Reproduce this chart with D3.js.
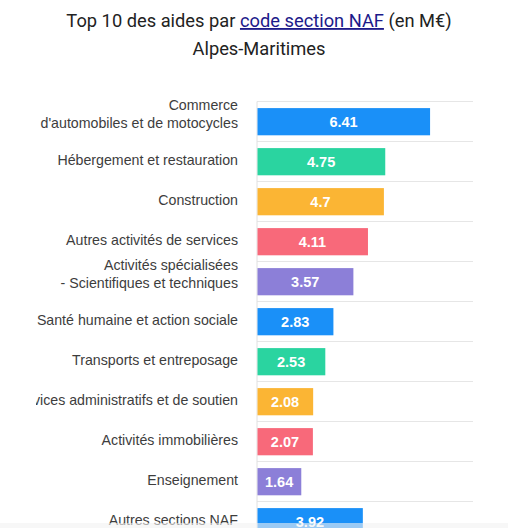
<!DOCTYPE html>
<html>
<head>
<meta charset="utf-8">
<script src="https://cdn.jsdelivr.net/npm/d3@7"></script>
<style>
  html, body { margin: 0; padding: 0; background: #fff; }
  svg { display: block; }
</style>
</head>
<body>
<svg id="chart" width="508" height="528"></svg>
<script>
const categories = [
  ["Commerce", "d'automobiles et de motocycles"],
  ["Hébergement et restauration"],
  ["Construction"],
  ["Autres activités de services"],
  ["Activités spécialisées", "- Scientifiques et techniques"],
  ["Santé humaine et action sociale"],
  ["Transports et entreposage"],
  ["Activités de services administratifs et de soutien"],
  ["Activités immobilières"],
  ["Enseignement"],
  ["Autres sections NAF"]
];
const values = [6.41, 4.75, 4.7, 4.11, 3.57, 2.83, 2.53, 2.08, 2.07, 1.64, 3.92];
const palette = ["#1a90f8", "#2ad4a0", "#fbb534", "#f8697a", "#8c7fd8"];
const xDomain = [0, 8];

const svg = d3.select("#chart");
const W = 508, H = 528;

// Title
const title = svg.append("text")
  .attr("x", 259).attr("y", 27)
  .attr("text-anchor", "middle")
  .style("font-family", "Roboto, 'Noto Sans', sans-serif")
  .style("font-size", "18.3px")
  .style("font-weight", "400")
  .attr("fill", "#222");
title.append("tspan").text("Top 10 des aides par ");
title.append("tspan").text("code section NAF")
  .attr("fill", "#1c1a8a")
  .style("text-decoration", "underline");
title.append("tspan").text(" (en M€)");

svg.append("text")
  .attr("x", 259).attr("y", 55)
  .attr("text-anchor", "middle")
  .style("font-family", "Roboto, 'Noto Sans', sans-serif")
  .style("font-size", "18.3px")
  .style("font-weight", "400")
  .attr("fill", "#222")
  .text("Alpes-Maritimes");

const x = d3.scaleLinear().domain(xDomain).range([257, 473]);
const idx = d3.range(categories.length);
const y = d3.scaleBand().domain(idx).range([101.5, 101.5 + 40 * categories.length]).padding(0);

// gridlines at band boundaries
svg.append("g").selectAll("line")
  .data(idx)
  .join("line")
  .attr("x1", x(xDomain[0])).attr("x2", x(xDomain[1]))
  .attr("y1", d => y(d)).attr("y2", d => y(d))
  .attr("stroke", "#e6e6e6").attr("stroke-width", 1);

// y axis line
svg.append("line")
  .attr("x1", x(0)).attr("x2", x(0))
  .attr("y1", y(0)).attr("y2", H)
  .attr("stroke", "#e0e0e0").attr("stroke-width", 1);

// bars
const bw = y.bandwidth();
svg.append("g").selectAll("rect")
  .data(idx)
  .join("rect")
  .attr("x", x(0) + 0.5)
  .attr("y", d => y(d) + bw * 0.165)
  .attr("width", d => x(values[d]) - x(0) - 0.5)
  .attr("height", bw * 0.68)
  .attr("fill", d => palette[d % palette.length]);

// value labels
svg.append("g").selectAll("text")
  .data(idx)
  .join("text")
  .attr("x", d => (x(0) + x(values[d])) / 2)
  .attr("y", d => y(d) + bw / 2 + 5.5)
  .attr("text-anchor", "middle")
  .style("font-family", "'Liberation Sans', Arial, Helvetica, sans-serif")
  .style("font-size", "14.5px")
  .style("font-weight", "bold")
  .attr("fill", "#fff")
  .text(d => String(values[d]));

// category labels (clipped on the left)
const defs = svg.append("defs");
defs.append("clipPath").attr("id", "lblclip")
  .append("rect").attr("x", 36).attr("y", 0).attr("width", W).attr("height", H);

const lg = svg.append("g").attr("clip-path", "url(#lblclip)");
idx.forEach(d => {
  const lines = categories[d];
  const cy = y(d) + bw / 2;
  const t = lg.append("text")
    .attr("text-anchor", "end")
    .style("font-family", "'Liberation Sans', Arial, Helvetica, sans-serif")
    .style("font-size", "14.2px")
    .attr("fill", "#3d3d3d");
  lines.forEach((ln, i) => {
    const yy = lines.length === 1 ? cy + 3.5 : cy - 11.5 + i * 18;
    t.append("tspan")
      .attr("x", 238)
      .attr("y", yy)
      .text(ln);
  });
});

// faint bottom band
svg.append("rect").attr("x", 0).attr("y", 523).attr("width", W).attr("height", 5)
  .attr("fill", "#f2f2f2").attr("opacity", 0.6);
</script>
</body>
</html>
